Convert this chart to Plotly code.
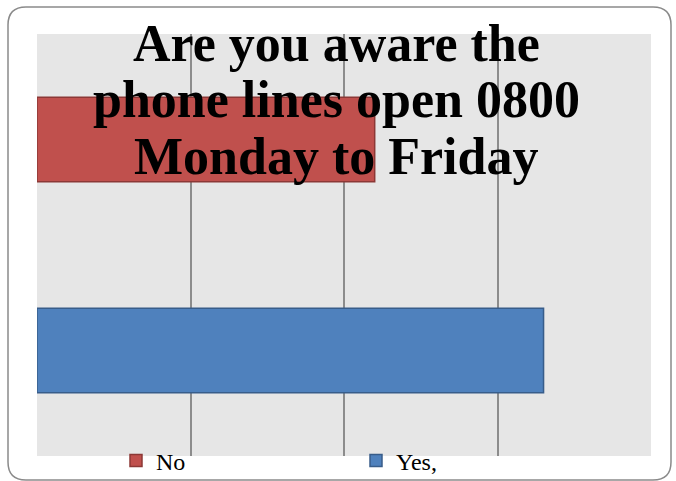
import plotly.graph_objects as go

categories = ["No", "Yes,"]
values = [22, 33]
colors = ["#c0504d", "#4f81bd"]
line_colors = ["#8c3836", "#385d8a"]
title_lines = ["Are you aware the", "phone lines open 0800", "Monday to Friday"]

fig = go.Figure()
for cat, val, col, lc in zip(categories, values, colors, line_colors):
    fig.add_trace(go.Bar(
        y=[cat], x=[val], name=cat, orientation="h",
        marker=dict(color=col, line=dict(color=lc, width=1.5)),
        width=0.4,
    ))

W, H = 676, 481
l, r, t, b = 37, 25, 34, 25
pw, ph = W - l - r, H - t - b

def px(x):
    return (x - l) / pw

def py(y):
    return (H - b - y) / ph

# rounded border
x0, x1, y0, y1 = px(8), px(671), py(7), py(480)
rx, ry = 18 / pw, 18 / ph
path = (f"M {x0+rx},{y0} L {x1-rx},{y0} Q {x1},{y0} {x1},{y0-ry} "
        f"L {x1},{y1+ry} Q {x1},{y1} {x1-rx},{y1} L {x0+rx},{y1} "
        f"Q {x0},{y1} {x0},{y1+ry} L {x0},{y0-ry} Q {x0},{y0} {x0+rx},{y0} Z")

title_fs = 52
baselines = [59, 115, 172]
annotations = []
for txt, bl in zip(title_lines, baselines):
    annotations.append(dict(
        text=f"<b>{txt}</b>", xref="paper", yref="paper", x=px(336), y=py(bl - 0.3 * title_fs),
        xanchor="center", yanchor="middle", showarrow=False,
        font=dict(family="Liberation Serif", size=title_fs, color="black"),
    ))

fig.update_layout(
    width=W, height=H,
    margin=dict(l=l, r=r, t=t, b=b, autoexpand=False),
    paper_bgcolor="white",
    plot_bgcolor="#e6e6e6",
    barmode="overlay",
    showlegend=True,
    xaxis=dict(range=[0, 40], dtick=10, showgrid=True, gridcolor="#8c8c8c", gridwidth=1.5,
               showticklabels=False, zeroline=False, showline=False, ticks=""),
    yaxis=dict(categoryorder="array", categoryarray=["Yes,", "No"], showticklabels=False,
               showgrid=False, zeroline=False, showline=False, ticks=""),
    legend=dict(orientation="h", x=px(116), xanchor="left", y=py(461), yanchor="middle",
                bgcolor="rgba(0,0,0,0)", entrywidth=195, entrywidthmode="pixels",
                font=dict(family="Liberation Serif", size=24, color="black"),
                traceorder="normal"),
    annotations=annotations,
    shapes=[dict(type="path", xref="paper", yref="paper", path=path,
                 line=dict(color="#8a8a8a", width=1.5), layer="above")],
)

fig.write_html("out.html", config={"displayModeBar": False},
               post_script="document.body.style.margin='0';")
